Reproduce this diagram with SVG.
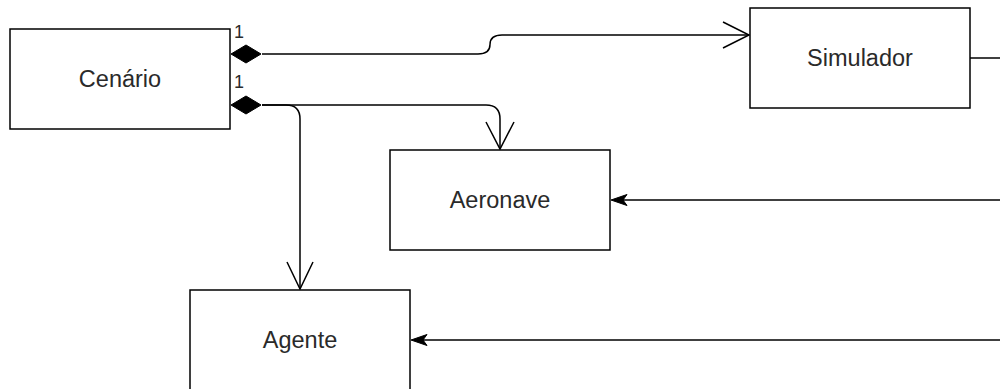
<svg xmlns="http://www.w3.org/2000/svg" width="1000" height="389" viewBox="0 0 1000 389">
  <style>
    .box { fill: #ffffff; stroke: #000000; stroke-width: 1.5; }
    .label { font-family: "Liberation Sans", Arial, sans-serif; font-size: 23.5px; fill: #2a2a2a; text-anchor: middle; dominant-baseline: central; }
    .mult { font-family: "Liberation Sans", Arial, sans-serif; font-size: 18px; fill: #2a2a2a; }
    .edge { fill: none; stroke: #000000; stroke-width: 1.5; }
    .open { fill: none; stroke: #000000; stroke-width: 1.5; }
    .solid { fill: #000000; stroke: #000000; stroke-width: 1; }
  </style>
  <rect width="1000" height="389" fill="#ffffff"/>

  <!-- connectors -->
  <g id="connectors">
    <!-- Cenário to Simulador (composition) -->
    <path class="edge" d="M262,54 H478 Q490,54 490,44.5 Q490,35 502,35 H749"/>
    <path class="open" d="M723,22 L749,35 L723,48"/>
    <!-- Cenário to Aeronave (composition) -->
    <path class="edge" d="M262,105 H486 Q500,105 500,119 V149"/>
    <path class="open" d="M486,122 L500,149 L514,122"/>
    <!-- Cenário to Agente (composition) -->
    <path class="edge" d="M262,105 H286 Q300,105 300,119 V289"/>
    <path class="open" d="M287,262 L300,289 L313,262"/>
    <!-- composition diamonds -->
    <path class="solid" d="M231,54 L246,45 L261,54 L246,63 Z"/>
    <path class="solid" d="M231,105 L246,96 L261,105 L246,114 Z"/>
    <text class="mult" x="234" y="38">1</text>
    <text class="mult" x="234" y="88">1</text>
    <!-- Simulador outgoing -->
    <path class="edge" d="M970,58 H1000"/>
    <!-- incoming from right -->
    <path class="edge" d="M1000,200 H622"/>
    <path class="solid" d="M611,200 L627,194.5 L623,200 L627,205.5 Z"/>
    <path class="edge" d="M1000,340 H422"/>
    <path class="solid" d="M411,340 L427,334.5 L423,340 L427,345.5 Z"/>
  </g>

  <g id="cenario">
    <rect class="box" x="10" y="29" width="220" height="100"/>
    <text class="label" x="120" y="79">Cenário</text>
  </g>

  <g id="simulador">
    <rect class="box" x="750" y="8" width="220" height="100"/>
    <text class="label" x="860" y="58">Simulador</text>
  </g>

  <g id="aeronave">
    <rect class="box" x="390" y="150" width="220" height="100"/>
    <text class="label" x="500" y="200">Aeronave</text>
  </g>

  <g id="agente">
    <rect class="box" x="190" y="290" width="220" height="100"/>
    <text class="label" x="300" y="340">Agente</text>
  </g>
</svg>
